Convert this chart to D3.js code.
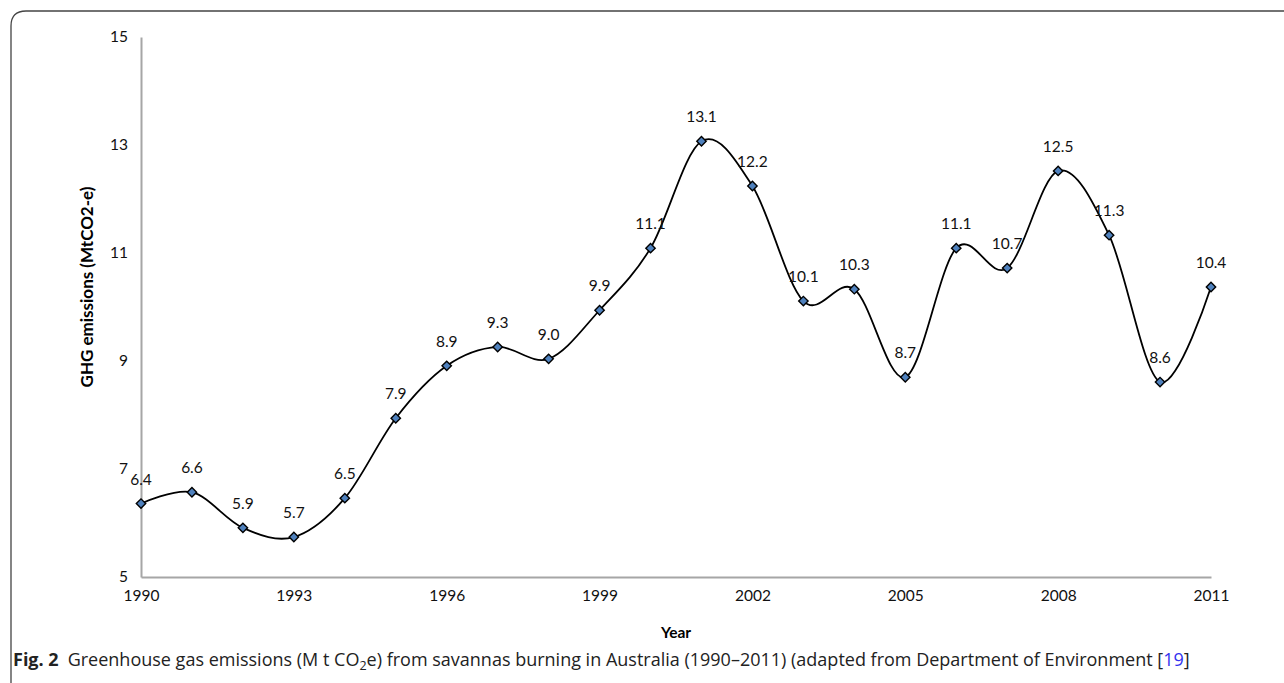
<!DOCTYPE html>
<html>
<head>
<meta charset="utf-8">
<script src="https://cdn.jsdelivr.net/npm/d3@7"></script>
<style>
  body { margin: 0; background: #fff; }
  svg { display: block; }
</style>
</head>
<body>
<script>
const years = [1990, 1991, 1992, 1993, 1994, 1995, 1996, 1997, 1998, 1999, 2000,
  2001, 2002, 2003, 2004, 2005, 2006, 2007, 2008, 2009, 2010, 2011];
const emissions = [6.36, 6.57, 5.91, 5.74, 6.46, 7.94, 8.91, 9.26, 9.04, 9.94, 11.09,
  13.07, 12.24, 10.11, 10.33, 8.70, 11.09, 10.72, 12.52, 11.33, 8.61, 10.37];
const yTicks = [5, 7, 9, 11, 13, 15];
const xTicks = [1990, 1993, 1996, 1999, 2002, 2005, 2008, 2011];

const W = 1284, H = 683;
const data = years.map((y, i) => ({ year: y, value: emissions[i] }));

const svg = d3.select("body").append("svg")
  .attr("width", W)
  .attr("height", H);

// rounded frame, runs off the right and bottom edges
svg.append("path")
  .attr("d", "M11,690 L11,26 Q11,11 26,11 L1300,11")
  .attr("fill", "none")
  .attr("stroke", "#444")
  .attr("stroke-width", 1.3);

const x = d3.scaleLinear().domain([1990, 2011]).range([141, 1211]);
const y = d3.scaleLinear().domain([5, 15]).range([577, 37]);

const font = "Lato, 'Open Sans', sans-serif";
const fs = 15.5;

// axes
const xAxis = svg.append("g")
  .attr("transform", `translate(0,${y(5)})`)
  .call(d3.axisBottom(x).tickValues(xTicks).tickFormat(d3.format("d")).tickSize(0).tickPadding(13));
const yAxis = svg.append("g")
  .attr("transform", `translate(${x(1990)},0)`)
  .call(d3.axisLeft(y).tickValues(yTicks).tickSize(0).tickPadding(13));

[xAxis, yAxis].forEach(g => {
  g.select(".domain").attr("stroke", "#a6a6a6").attr("stroke-width", 2);
  g.selectAll("text").attr("font-family", font).attr("font-size", fs).attr("fill", "#111");
});

// axis titles
svg.append("text")
  .attr("x", x(2000.5))
  .attr("y", 638)
  .attr("text-anchor", "middle")
  .attr("font-family", font)
  .attr("font-weight", "bold")
  .attr("font-size", fs)
  .text("Year");

svg.append("text")
  .attr("transform", `translate(93,287) rotate(-90)`)
  .attr("text-anchor", "middle")
  .attr("font-family", font)
  .attr("font-weight", "bold")
  .attr("font-size", 17)
  .text("GHG emissions (MtCO2-e)");

// smooth line
const line = d3.line()
  .x(d => x(d.year))
  .y(d => y(d.value))
  .curve(d3.curveCardinal.tension(0));

svg.append("path")
  .datum(data)
  .attr("d", line)
  .attr("fill", "none")
  .attr("stroke", "#000")
  .attr("stroke-width", 1.8);

svg.selectAll(".marker")
  .data(data)
  .enter()
  .append("path")
  .attr("class", "marker")
  .attr("transform", d => `translate(${x(d.year)},${y(d.value)}) rotate(45)`)
  .attr("d", d3.symbol(d3.symbolSquare, 44))
  .attr("fill", "#4f81bd")
  .attr("stroke", "#000")
  .attr("stroke-width", 1.4);

svg.selectAll(".label")
  .data(data)
  .enter()
  .append("text")
  .attr("class", "label")
  .attr("x", d => x(d.year))
  .attr("y", d => y(d.value) - 19)
  .attr("text-anchor", "middle")
  .attr("font-family", font)
  .attr("font-size", fs)
  .attr("fill", "#111")
  .text(d => d3.format(".1f")(d.value));

// caption
const cap = svg.append("text")
  .attr("x", 13)
  .attr("y", 666)
  .attr("font-family", "'Open Sans', sans-serif")
  .attr("font-size", 18)
  .attr("fill", "#222");
cap.append("tspan").attr("font-weight", "bold").text("Fig. 2");
cap.append("tspan").attr("dx", 9).text("Greenhouse gas emissions (M t CO");
cap.append("tspan").attr("font-size", 12.5).attr("dy", 4).text("2");
cap.append("tspan").attr("dy", -4).text("e) from savannas burning in Australia (1990\u20132011) (adapted from Department of Environment [");
cap.append("tspan").attr("fill", "#3333ee").text("19");
cap.append("tspan").text("]");
</script>
</body>
</html>
